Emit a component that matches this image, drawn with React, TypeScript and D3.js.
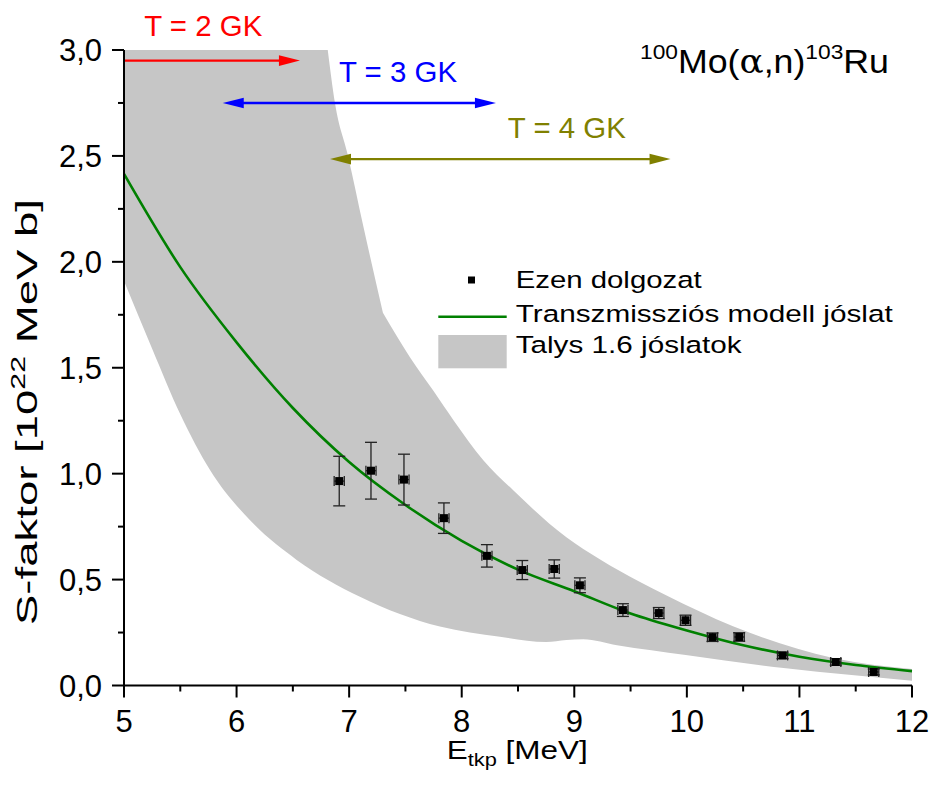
import React from 'react';
import * as d3 from 'd3';

// Axis ticks
const energyTicks = [5, 6, 7, 8, 9, 10, 11, 12];
const energyMinorTicks = [5.5, 6.5, 7.5, 8.5, 9.5, 10.5, 11.5];
const sTicks = [0, 0.5, 1, 1.5, 2, 2.5, 3];
const sTickLabels = ['0,0', '0,5', '1,0', '1,5', '2,0', '2,5', '3,0'];
const sMinorTicks = [0.25, 0.75, 1.25, 1.75, 2.25, 2.75];

// Measured S-factors (this work)
const measuredE = [6.912, 7.194, 7.487, 7.842, 8.224, 8.538, 8.822, 9.05, 9.432, 9.751, 9.988, 10.228, 10.465, 10.85, 11.323, 11.66];
const measuredS = [0.965, 1.014, 0.972, 0.79, 0.612, 0.545, 0.55, 0.473, 0.356, 0.342, 0.308, 0.228, 0.229, 0.142, 0.111, 0.064];
const measuredSErr = [0.117, 0.134, 0.12, 0.072, 0.053, 0.045, 0.043, 0.035, 0.03, 0.026, 0.024, 0.02, 0.02, 0.015, 0.015, 0.014];
const measuredEErr = 0.045;

// Statistical model prediction
const modelE = [5.0, 5.5, 6.0, 6.5, 7.0, 7.5, 8.0, 8.5, 9.0, 9.5, 10.0, 10.5, 11.0, 11.5, 12.0];
const modelS = [2.415, 1.975, 1.62, 1.31, 1.055, 0.852, 0.683, 0.547, 0.445, 0.34, 0.26, 0.19, 0.136, 0.097, 0.068];

// Talys 1.6 envelope (upper edge is cut at the top of the frame)
const talysUpperE = [5.0, 6.81, 6.874, 6.99, 7.125, 7.3, 7.54, 7.75, 7.93, 8.19, 8.46, 8.93, 9.23, 9.58, 9.82, 10.41, 11.3, 12.0];
const talysUpperS = [3.0, 3.0, 2.75, 2.5, 2.17, 1.76, 1.55, 1.39, 1.25, 1.065, 0.92, 0.7, 0.595, 0.49, 0.425, 0.28, 0.13, 0.078];
const talysUpperKinks = [6.81, 7.3];
const talysLowerE = [5.0, 5.25, 5.5, 5.764, 6.12, 6.534, 7.096, 7.806, 8.34, 8.75, 8.93, 9.08, 9.38, 9.99, 10.88, 12.0];
const talysLowerS = [1.91, 1.59, 1.28, 1.017, 0.78, 0.593, 0.419, 0.278, 0.23, 0.205, 0.215, 0.218, 0.19, 0.144, 0.081, 0.023];

// Gamow windows
const windowLabels = ['T = 2 GK', 'T = 3 GK', 'T = 4 GK'];
const windowStart = [5.0, 5.877, 6.83];
const windowEnd = [6.563, 8.304, 9.855];
const windowLevel = [2.95, 2.75, 2.485];
const windowLabelE = [5.18, 6.91, 8.41];
const windowLabelS = [3.068, 2.85, 2.586];
const windowBothEnds = [false, true, true];

const legendLabels = ['Ezen dolgozat', 'Transzmissziós modell jóslat', 'Talys 1.6 jóslatok'];

const WIDTH = 931;
const HEIGHT = 795;
const FONT = 'Liberation Sans, Arial, sans-serif';
const windowColors = ['#ff0000', '#0000ff', '#808000'];
const BAND = '#c6c6c6';
const GREEN = '#008000';

const x = d3.scaleLinear().domain([5, 12]).range([124, 912]);
const y = d3.scaleLinear().domain([0, 3]).range([685.5, 50]);

function arrowHead(tipX: number, tipY: number, dir: number) {
  const len = 21;
  const half = 5.3;
  return `M${tipX},${tipY}L${tipX - dir * len},${tipY - half}L${tipX - dir * len},${tipY + half}Z`;
}

type Pt = [number, number];

export default function App() {
  const line = d3
    .line<Pt>()
    .x((d) => x(d[0]))
    .y((d) => y(d[1]))
    .curve(d3.curveMonotoneX);

  const modelPath = line(modelE.map((e, i) => [e, modelS[i]] as Pt)) || '';

  // Upper edge: straight flat part, then smooth pieces joined at the kinks
  const upperPts: Pt[] = talysUpperE.map((e, i) => [e, talysUpperS[i]] as Pt);
  const [k1, k2] = talysUpperKinks;
  const flat = upperPts.filter((p) => p[0] <= k1);
  const steep = upperPts.filter((p) => p[0] >= k1 && p[0] <= k2);
  const tail = upperPts.filter((p) => p[0] >= k2);
  const lowerRev = line(talysLowerE.map((e, i) => [e, talysLowerS[i]] as Pt).reverse()) || '';

  const bandPath =
    `M${x(flat[0][0])},${y(flat[0][1])}` +
    flat.slice(1).map((p) => `L${x(p[0])},${y(p[1])}`).join('') +
    'L' + (line(steep) || '').slice(1) +
    'L' + (line(tail) || '').slice(1) +
    'L' + lowerRev.slice(1) +
    'Z';

  const x0 = x(5);
  const y0 = y(0);

  return (
    <div style={{ position: 'absolute', left: 0, top: 0 }}>
      <svg width={WIDTH} height={HEIGHT} style={{ display: 'block', background: '#fff' }} fontFamily={FONT}>
        {/* Talys band */}
        <path d={bandPath} fill={BAND} stroke="none" />

        {/* Model curve */}
        <path d={modelPath} fill="none" stroke={GREEN} strokeWidth={2.6} />

        {/* Measured points with error bars */}
        {measuredE.map((e, i) => {
          const cx = x(e);
          const cy = y(measuredS[i]);
          const yt = y(measuredS[i] + measuredSErr[i]);
          const yb = y(measuredS[i] - measuredSErr[i]);
          const xl = x(e - measuredEErr);
          const xr = x(e + measuredEErr);
          const cap = 6;
          const xcap = 5;
          return (
            <g key={i} stroke="#222" strokeWidth={1.3} fill="none">
              <line x1={cx} x2={cx} y1={yt} y2={yb} />
              <line x1={cx - cap} x2={cx + cap} y1={yt} y2={yt} />
              <line x1={cx - cap} x2={cx + cap} y1={yb} y2={yb} />
              <line x1={xl} x2={xr} y1={cy} y2={cy} />
              <line x1={xl} x2={xl} y1={cy - xcap} y2={cy + xcap} />
              <line x1={xr} x2={xr} y1={cy - xcap} y2={cy + xcap} />
              <rect x={cx - 4} y={cy - 4} width={8} height={8} fill="#000" stroke="none" />
            </g>
          );
        })}

        {/* Gamow windows */}
        {windowLabels.map((label, i) => {
          const yy = y(windowLevel[i]);
          const xs = x(windowStart[i]);
          const xe = x(windowEnd[i]);
          const c = windowColors[i];
          return (
            <g key={label}>
              <line
                x1={windowBothEnds[i] ? xs + 12 : xs}
                x2={xe - 12}
                y1={yy}
                y2={yy}
                stroke={c}
                strokeWidth={2.4}
              />
              <path d={arrowHead(xe, yy, 1)} fill={c} />
              {windowBothEnds[i] && <path d={arrowHead(xs, yy, -1)} fill={c} />}
              <text
                x={x(windowLabelE[i])}
                y={y(windowLabelS[i])}
                fill={c}
                fontSize={29}
                textLength={118}
                lengthAdjust="spacingAndGlyphs"
              >
                {label}
              </text>
            </g>
          );
        })}

        {/* Reaction label */}
        <text x={640} y={72.7} fontSize={33} fill="#000" textLength={249} lengthAdjust="spacingAndGlyphs">
          <tspan fontSize={21} dy={-14}>100</tspan>
          <tspan dy={14}>Mo(</tspan>
          <tspan fontFamily="DejaVu Serif, serif">α</tspan>
          <tspan>,n)</tspan>
          <tspan fontSize={21} dy={-14}>103</tspan>
          <tspan dy={14}>Ru</tspan>
        </text>

        {/* Axes */}
        <g stroke="#000" strokeWidth={2} fill="none">
          <line x1={x0} x2={x0} y1={y(3)} y2={y0 + 1} />
          <line x1={x0 - 1} x2={x(12)} y1={y0} y2={y0} />
          {sTicks.map((t) => (
            <line key={'ys' + t} x1={x0 - 12} x2={x0} y1={y(t)} y2={y(t)} />
          ))}
          {sMinorTicks.map((t) => (
            <line key={'ym' + t} x1={x0 - 6} x2={x0} y1={y(t)} y2={y(t)} />
          ))}
          {energyTicks.map((t) => (
            <line key={'xs' + t} x1={x(t)} x2={x(t)} y1={y0} y2={y0 + 12} />
          ))}
          {energyMinorTicks.map((t) => (
            <line key={'xm' + t} x1={x(t)} x2={x(t)} y1={y0} y2={y0 + 6} />
          ))}
        </g>

        {/* Tick labels */}
        {sTicks.map((t, i) => (
          <text key={'yl' + t} x={102} y={y(t)} dy="0.36em" textAnchor="end" fontSize={31} fill="#000">
            {sTickLabels[i]}
          </text>
        ))}
        {energyTicks.map((t) => (
          <text key={'xl' + t} x={x(t)} y={732} textAnchor="middle" fontSize={31} fill="#000">
            {t}
          </text>
        ))}

        {/* Axis titles */}
        <text x={446.7} y={759.3} fontSize={26} fill="#000" textLength={141} lengthAdjust="spacingAndGlyphs">
          <tspan>E</tspan>
          <tspan fontSize={18} dy={7}>tkp</tspan>
          <tspan dy={-7}> [MeV]</tspan>
        </text>
        <text
          transform="translate(37, 412) rotate(-90)"
          textAnchor="middle"
          fontSize={30}
          fill="#000"
          textLength={426}
          lengthAdjust="spacingAndGlyphs"
        >
          <tspan>S-faktor [10</tspan>
          <tspan fontSize={20} dy={-12}>22</tspan>
          <tspan dy={12}> MeV b]</tspan>
        </text>

        {/* Legend */}
        <g>
          <rect x={468} y={276.5} width={7} height={7} fill="#000" />
          <line x1={438.3} x2={506.7} y1={316.7} y2={316.7} stroke={GREEN} strokeWidth={2.6} />
          <rect x={438.3} y={335} width={68.4} height={33.3} fill={BAND} />
          <text x={515.7} y={287.7} fontSize={24.5} fill="#000" textLength={186} lengthAdjust="spacingAndGlyphs">
            {legendLabels[0]}
          </text>
          <text x={515.7} y={321.7} fontSize={24.5} fill="#000" textLength={377} lengthAdjust="spacingAndGlyphs">
            {legendLabels[1]}
          </text>
          <text x={515.7} y={353.3} fontSize={24.5} fill="#000" textLength={226} lengthAdjust="spacingAndGlyphs">
            {legendLabels[2]}
          </text>
        </g>
      </svg>
    </div>
  );
}
